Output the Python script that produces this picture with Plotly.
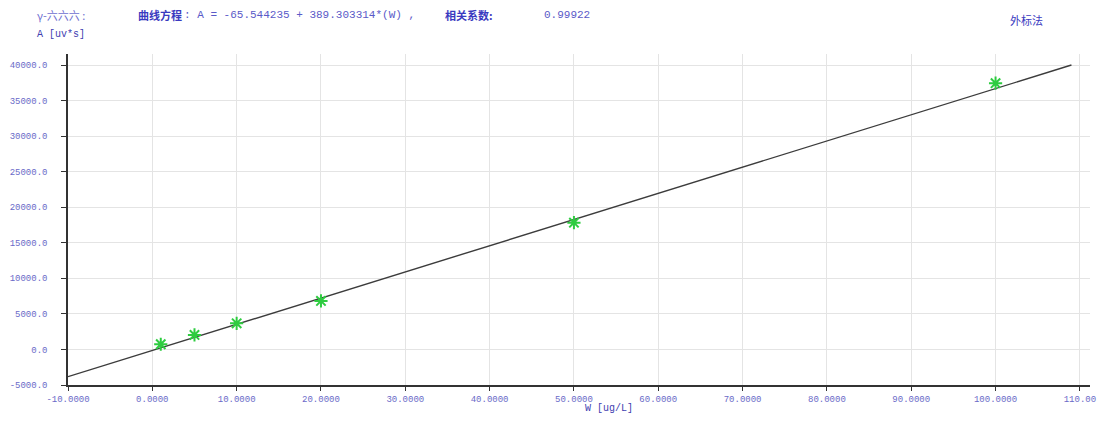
import plotly.graph_objects as go

# Calibration standards for γ-六六六 (external standard method)
conc_w = [1, 5, 10, 20, 50, 100]                  # W [ug/L]
area_a = [730, 2040, 3680, 6820, 17830, 37440]    # A [uv*s]

# Fitted calibration line, end points
fit_w = [-10, 109]
fit_a = [-3830, 40000]

x_ticks = [-10, 0, 10, 20, 30, 40, 50, 60, 70, 80, 90, 100, 110]
x_tick_text = ["-10.0000", "0.0000", "10.0000", "20.0000", "30.0000", "40.0000",
               "50.0000", "60.0000", "70.0000", "80.0000", "90.0000", "100.0000", "110.00"]
y_ticks = [-5000, 0, 5000, 10000, 15000, 20000, 25000, 30000, 35000, 40000]
y_tick_text = ["-5000.0", "0.0", "5000.0", "10000.0", "15000.0", "20000.0",
               "25000.0", "30000.0", "35000.0", "40000.0"]

compound = "γ-六六六 :"
equation = "A = -65.544235 + 389.303314*(W) ,"
corr_label = "相关系数:"
corr_value = "0.99922"
method = "外标法"

CJK = "Noto Sans CJK SC"
MONO = "Liberation Mono"
TICK_COLOR = "#6a6ac8"

fig = go.Figure()

fig.add_trace(go.Scatter(
    x=fit_w, y=fit_a, mode="lines",
    line=dict(color="#3c3c3c", width=1.4),
    hoverinfo="skip", showlegend=False,
))

fig.add_trace(go.Scatter(
    x=conc_w, y=area_a, mode="markers",
    marker=dict(symbol="asterisk-open", size=11, color="#2ecc40",
                line=dict(color="#2ecc40", width=2)),
    showlegend=False,
))

axis_common = dict(
    showline=True, linecolor="#333333", linewidth=1.5,
    ticks="outside", tickcolor="#333333", tickwidth=1,
    showgrid=True, gridcolor="#e4e4e4", gridwidth=1,
    zeroline=False, automargin=False,
    tickfont=dict(family=MONO, size=9, color=TICK_COLOR),
)

fig.update_xaxes(
    range=[-10, 111.2], tickmode="array",
    tickvals=x_ticks, ticktext=x_tick_text, ticklen=4,
    **axis_common,
)
fig.update_yaxes(
    range=[-5000, 41550], tickmode="array",
    tickvals=y_ticks, ticktext=y_tick_text, ticklen=5,
    ticklabelstandoff=12,
    **axis_common,
)

annotations = [
    dict(text=compound, x=35, y=15, font=dict(family=CJK, color="#6f6fd0", size=11)),
    dict(text="<b>曲线方程</b>", x=136, y=15, font=dict(family=CJK, color="#3a3ac0", size=11)),
    dict(text=": " + equation, x=182, y=15, font=dict(family=MONO, color="#5a5ac8", size=11)),
    dict(text="<b>" + corr_label + "</b>", x=443, y=15, font=dict(family=CJK, color="#3a3ac0", size=11)),
    dict(text=corr_value, x=542, y=15, font=dict(family=MONO, color="#5a5ac8", size=11)),
    dict(text=method, x=1008, y=20, font=dict(family=CJK, color="#3a3ac0", size=11)),
    dict(text="A [uv*s]", x=35, y=35, font=dict(family=MONO, color="#4040b0", size=10)),
    dict(text="W [ug/L]", x=583, y=408, font=dict(family=MONO, color="#4040b0", size=10)),
]
fig.update_layout(annotations=[
    dict(a, xref="paper", yref="paper", showarrow=False,
         xanchor="left", yanchor="middle")
    | dict(x=(a["x"] - 68) / (1090 - 68), y=(385 - a["y"]) / (385 - 54))
    for a in annotations
])

fig.update_layout(
    width=1109, height=423,
    margin=dict(l=68, r=19, t=54, b=38),
    paper_bgcolor="white", plot_bgcolor="white",
    font=dict(family=CJK),
)

fig.write_html("out.html")
